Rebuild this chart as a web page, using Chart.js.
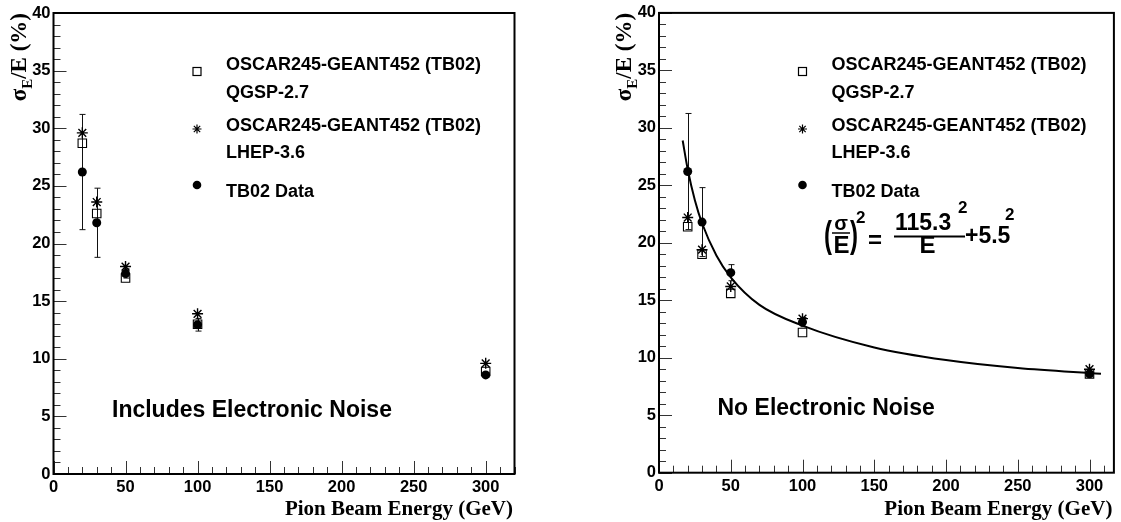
<!DOCTYPE html>
<html>
<head>
<meta charset="utf-8">
<script src="https://cdn.jsdelivr.net/npm/chart.js@4.4.1/dist/chart.umd.min.js"></script>
<style>
  html, body { margin: 0; padding: 0; background: #fff; }
  #wrap { position: relative; width: 1121px; height: 522px; overflow: hidden; }
  canvas { position: absolute; top: 0; }
</style>
</head>
<body>
<div id="wrap">
  <canvas id="left" width="560" height="522" style="left:0"></canvas>
  <canvas id="right" width="561" height="522" style="left:560px"></canvas>
</div>
<script>
// beam energies (GeV)
const energies = [20, 30, 50, 100, 300];

// left panel : electronic noise included
const qgspNoise = [28.7, 22.6, 17.0, 13.0, 8.9];
const lhepNoise = [29.6, 23.6, 18.0, 13.9, 9.6];
const dataNoise = [26.2, 21.8, 17.4, 12.95, 8.6];
const errNoise  = [5.0, 3.0, 0.4, 0.55, 0.2];

// right panel : no electronic noise
const qgspClean = [21.4, 19.0, 15.6, 12.2, 8.6];
const lhepClean = [22.2, 19.4, 16.2, 13.4, 9.0];
const dataClean = [26.2, 21.8, 17.4, 13.1, 8.6];
const errClean  = [5.05, 3.0, 0.7, 0.4, 0.2];

// fit curve
const fitE = [16.5, 20, 25, 30, 40, 50, 70, 100, 150, 200, 250, 308];
const fitV = [28.9, 26.4, 23.7, 21.7, 18.9, 17.0, 14.6, 12.8, 10.9, 9.8, 9.1, 8.6];

// tick labels
const xTickValues = [0, 50, 100, 150, 200, 250, 300];
const yTickValues = [0, 5, 10, 15, 20, 25, 30, 35, 40];

const legendTexts = ['OSCAR245-GEANT452 (TB02)', 'QGSP-2.7', 'OSCAR245-GEANT452 (TB02)', 'LHEP-3.6', 'TB02 Data'];

const SANS = '"Liberation Sans", Arial, Helvetica, sans-serif';
const SERIF = '"Liberation Serif", "Times New Roman", serif';

function pts(xs, ys) {
  return xs.map((x, i) => ({ x: x, y: ys[i] }));
}

// error bars of the test beam data
const errorBars = {
  id: 'errorBars',
  beforeDatasetsDraw(chart, args, opts) {
    const ctx = chart.ctx;
    const xs = chart.scales.x, ys = chart.scales.y;
    ctx.save();
    ctx.strokeStyle = '#111';
    ctx.lineWidth = 1;
    energies.forEach((e, i) => {
      const px = Math.round(xs.getPixelForValue(e)) + 0.5;
      const top = ys.getPixelForValue(opts.values[i] + opts.errs[i]);
      const bot = ys.getPixelForValue(opts.values[i] - opts.errs[i]);
      ctx.beginPath();
      ctx.moveTo(px, top); ctx.lineTo(px, bot);
      ctx.moveTo(px - 3, top); ctx.lineTo(px + 3, top);
      ctx.moveTo(px - 3, bot); ctx.lineTo(px + 3, bot);
      ctx.stroke();
    });
    ctx.restore();
  }
};

// ROOT-like frame with inner ticks
const frame = {
  id: 'frame',
  afterDatasetsDraw(chart) {
    const ctx = chart.ctx, a = chart.chartArea;
    const xs = chart.scales.x, ys = chart.scales.y;
    ctx.save();
    ctx.strokeStyle = '#333';
    ctx.lineWidth = 1;
    ctx.beginPath();
    for (let v = 0; v <= xs.max; v += 10) {
      const px = Math.round(xs.getPixelForValue(v)) + 0.5;
      const len = v % 50 === 0 ? 13 : 7;
      ctx.moveTo(px, a.bottom); ctx.lineTo(px, a.bottom - len);
    }
    for (let v = 0; v <= ys.max; v += 1) {
      const py = Math.round(ys.getPixelForValue(v)) + 0.5;
      const len = v % 5 === 0 ? 13 : 7;
      ctx.moveTo(a.left, py); ctx.lineTo(a.left + len, py);
    }
    ctx.stroke();
    ctx.strokeStyle = '#000';
    ctx.lineWidth = 2;
    ctx.strokeRect(a.left, a.top, a.right - a.left, a.bottom - a.top);
    ctx.restore();
  }
};

function drawMarker(ctx, style, x, y) {
  ctx.save();
  ctx.strokeStyle = '#000';
  ctx.fillStyle = '#000';
  ctx.lineWidth = 1.2;
  if (style === 'rect') {
    ctx.strokeRect(x - 4, y - 4, 8, 8);
  } else if (style === 'star') {
    const r = 4.5, d = r * Math.SQRT1_2;
    ctx.beginPath();
    ctx.moveTo(x - r, y); ctx.lineTo(x + r, y);
    ctx.moveTo(x, y - r); ctx.lineTo(x, y + r);
    ctx.moveTo(x - d, y - d); ctx.lineTo(x + d, y + d);
    ctx.moveTo(x - d, y + d); ctx.lineTo(x + d, y - d);
    ctx.stroke();
  } else {
    ctx.beginPath();
    ctx.arc(x, y, 4.3, 0, Math.PI * 2);
    ctx.fill();
  }
  ctx.restore();
}

function text(ctx, s, x, y, font, align) {
  ctx.font = font;
  ctx.textAlign = align || 'left';
  ctx.fillText(s, x, y);
}

// titles, legend, labels
const annotations = {
  id: 'annotations',
  afterDraw(chart, args, opts) {
    const ctx = chart.ctx, a = chart.chartArea;
    ctx.save();
    ctx.fillStyle = '#000';
    ctx.textBaseline = 'alphabetic';

    // y title, rotated, ending at the top of the frame
    const big = 'bold 23px ' + SERIF, small = 'bold 15px ' + SERIF;
    const parts = [['\u03c3', big, 0], ['E', small, 6], ['/E (%)', big, 0]];
    ctx.translate(a.left - 28, a.top);
    ctx.rotate(-Math.PI / 2);
    let total = 0;
    parts.forEach(p => { ctx.font = p[1]; total += ctx.measureText(p[0]).width; });
    let px = -total;
    parts.forEach(p => {
      ctx.font = p[1];
      ctx.textAlign = 'left';
      ctx.fillText(p[0], px, p[2]);
      px += ctx.measureText(p[0]).width;
    });
    ctx.setTransform(1, 0, 0, 1, 0, 0);

    // x title
    text(ctx, 'Pion Beam Energy (GeV)', a.right - 1.5, 515, 'bold 21px ' + SERIF, 'right');

    // legend
    const lf = 'bold 18px ' + SANS;
    const mx = a.left + 143.5, tx = a.left + 172.5;
    drawMarker(ctx, 'rect', mx, 71.5);
    text(ctx, legendTexts[0], tx, 70, lf);
    text(ctx, legendTexts[1], tx, 97.5, lf);
    drawMarker(ctx, 'star', mx, 129);
    text(ctx, legendTexts[2], tx, 130.5, lf);
    text(ctx, legendTexts[3], tx, 157.5, lf);
    drawMarker(ctx, 'circle', mx, 185);
    text(ctx, legendTexts[4], tx, 196.5, lf);

    // panel label
    text(ctx, opts.label, a.left + 58.5, opts.labelY, 'bold 23px ' + SANS);

    if (opts.formula) {
      const L = a.left;
      const f24 = 'bold 24px ' + SANS, f23 = 'bold 23px ' + SANS, f17 = 'bold 17px ' + SANS;
      // (sigma / E)
      ctx.save();
      ctx.font = f24; ctx.textAlign = 'left';
      ctx.translate(L + 165, 247); ctx.scale(1, 1.55); ctx.fillText('(', 0, 0);
      ctx.restore();
      text(ctx, '\u03c3', L + 182, 230, 'bold 20px ' + SANS, 'center');
      text(ctx, 'E', L + 182.5, 253, f24, 'center');
      ctx.save();
      ctx.font = f24; ctx.textAlign = 'left';
      ctx.translate(L + 191, 247); ctx.scale(1, 1.55); ctx.fillText(')', 0, 0);
      ctx.restore();
      text(ctx, '2', L + 197, 223, f17);
      text(ctx, '=', L + 209, 248, f24);
      text(ctx, '115.3', L + 236, 230, f23);
      text(ctx, '2', L + 299, 213, f17);
      text(ctx, 'E', L + 268.5, 253, f24, 'center');
      text(ctx, '+5.5', L + 306, 242.5, f23);
      text(ctx, '2', L + 346, 220, f17);
      ctx.lineWidth = 1.5;
      ctx.beginPath();
      ctx.moveTo(L + 173, 233); ctx.lineTo(L + 191, 233);
      ctx.stroke();
      ctx.lineWidth = 2;
      ctx.beginPath();
      ctx.moveTo(L + 235, 236.5); ctx.lineTo(L + 306, 236.5);
      ctx.stroke();
    }
    ctx.restore();
  }
};

function makePanel(id, p) {
  const datasets = [
    { label: 'TB02 Data', data: pts(energies, p.data), pointStyle: 'circle', pointRadius: 4.5,
      backgroundColor: '#000', borderColor: '#000', borderWidth: 0, order: 0 },
    { label: 'LHEP-3.6', data: pts(energies, p.lhep), pointStyle: 'star', pointRadius: 5.5,
      backgroundColor: 'transparent', borderColor: '#000', borderWidth: 1.4, order: 1 },
    { label: 'QGSP-2.7', data: pts(energies, p.qgsp), pointStyle: 'rect', pointRadius: 6,
      backgroundColor: 'transparent', borderColor: '#000', borderWidth: 1.1, order: 2 }
  ];
  if (p.fit) {
    datasets.push({ label: 'fit', data: pts(fitE, fitV), showLine: true, pointRadius: 0,
      borderColor: '#000', borderWidth: 2, cubicInterpolationMode: 'monotone', order: 3 });
  }
  const tickFont = { family: SANS, size: 16.5, weight: 'bold' };
  return new Chart(document.getElementById(id), {
    type: 'scatter',
    data: { datasets: datasets },
    options: {
      responsive: false,
      animation: false,
      events: [],
      layout: { padding: { left: 0, top: p.top, right: p.padRight, bottom: 0 } },
      plugins: {
        legend: { display: false },
        tooltip: { enabled: false },
        errorBars: { values: p.data, errs: p.errs },
        annotations: { label: p.label, labelY: p.labelY, formula: p.fit }
      },
      scales: {
        x: {
          type: 'linear', min: 0, max: p.xMax,
          grid: { display: false, drawTicks: false },
          border: { display: false },
          afterBuildTicks: s => { s.ticks = xTickValues.map(v => ({ value: v })); },
          afterFit: s => { s.height = p.xAxisH; },
          ticks: { font: tickFont, color: '#000', padding: 4, maxRotation: 0, autoSkip: false, includeBounds: false }
        },
        y: {
          type: 'linear', min: 0, max: 40,
          grid: { display: false, drawTicks: false },
          border: { display: false },
          afterBuildTicks: s => { s.ticks = yTickValues.map(v => ({ value: v })); },
          afterFit: s => { s.width = p.left; },
          ticks: { font: tickFont, color: '#000', padding: 3, autoSkip: false, includeBounds: false }
        }
      }
    },
    plugins: [errorBars, frame, annotations]
  });
}

makePanel('left', {
  data: dataNoise, lhep: lhepNoise, qgsp: qgspNoise, errs: errNoise, fit: false,
  label: 'Includes Electronic Noise', labelY: 416.5,
  left: 53.5, top: 13, padRight: 45.5, xAxisH: 48, xMax: 320
});

makePanel('right', {
  data: dataClean, lhep: lhepClean, qgsp: qgspClean, errs: errClean, fit: true,
  label: 'No Electronic Noise', labelY: 414.5,
  left: 99, top: 11.7, padRight: 6, xAxisH: 49.3, xMax: 317
});
</script>
</body>
</html>
